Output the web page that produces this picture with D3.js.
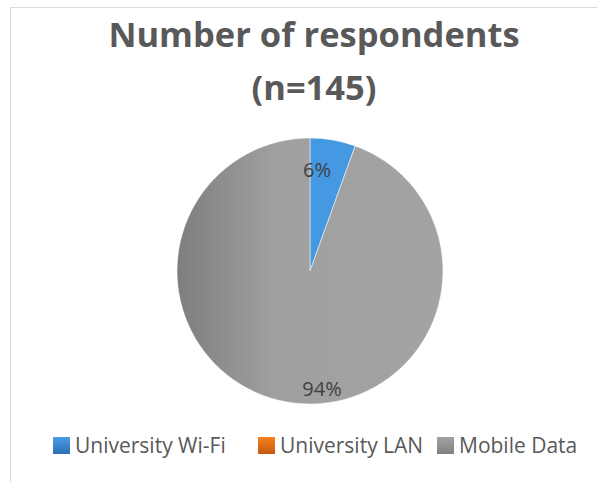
<!DOCTYPE html>
<html>
<head>
<meta charset="utf-8">
<script src="https://cdn.jsdelivr.net/npm/d3@7"></script>
<style>
  html, body { margin: 0; padding: 0; background: #fff; }
  svg { display: block; }
</style>
</head>
<body>
<div id="chart"></div>
<script>
// Respondents by connection type (n = 145)
const categories = ["University Wi-Fi", "University LAN", "Mobile Data"];
const respondents = [8, 0, 137];
const titleLines = ["Number of respondents", "(n=145)"];

const width = 597, height = 482;
const fontFamily = "'Open Sans', Lato, 'DejaVu Sans', sans-serif";

const svg = d3.select("#chart").append("svg")
  .attr("width", width)
  .attr("height", height);

const defs = svg.append("defs");

const sliceColors = ["#4599e3", "#ed7d31", "#a5a5a5"];
const legendTop = ["#4a9de8", "#f7801f", "#a3a3a3"];
const legendBottom = ["#2f6fb3", "#c4590f", "#7f7f7f"];

// Horizontal shading across the large slice
const shade = defs.append("linearGradient")
  .attr("id", "mobileShade")
  .attr("x1", "0%").attr("x2", "100%").attr("y1", "0%").attr("y2", "0%");
shade.append("stop").attr("offset", "0%").attr("stop-color", "#7e7e7e");
shade.append("stop").attr("offset", "37%").attr("stop-color", "#a0a0a0");
shade.append("stop").attr("offset", "100%").attr("stop-color", "#a3a3a3");

categories.forEach((c, i) => {
  const g = defs.append("linearGradient")
    .attr("id", "legendFill" + i)
    .attr("x1", "0%").attr("x2", "0%").attr("y1", "0%").attr("y2", "100%");
  g.append("stop").attr("offset", "0%").attr("stop-color", legendTop[i]);
  g.append("stop").attr("offset", "100%").attr("stop-color", legendBottom[i]);
});

// Chart frame
svg.append("rect")
  .attr("x", 10.5).attr("y", 7.5)
  .attr("width", width + 20).attr("height", height + 20)
  .attr("fill", "none")
  .attr("stroke", "#d9d9d9")
  .attr("stroke-width", 1);

// Title
const title = svg.append("text")
  .attr("text-anchor", "middle")
  .attr("font-family", fontFamily)
  .attr("font-weight", "bold")
  .attr("font-size", 34.5)
  .attr("fill", "#595959");
titleLines.forEach((t, i) => {
  title.append("tspan")
    .attr("x", 314)
    .attr("y", 47 + i * 53)
    .text(t);
});

// Pie
const cx = 310, cy = 271, radius = 133;
const total = d3.sum(respondents);
const data = categories.map((c, i) => ({ category: c, value: respondents[i], index: i }));

const pie = d3.pie().sort(null).value(d => d.value);
const arc = d3.arc().innerRadius(0).outerRadius(radius);
const arcs = pie(data);
const shown = arcs.filter(a => a.data.value > 0);

const pieG = svg.append("g").attr("transform", `translate(${cx},${cy})`);

pieG.selectAll("path")
  .data(shown)
  .join("path")
  .attr("d", arc)
  .attr("fill", d => d.data.index === 2 ? "url(#mobileShade)" : sliceColors[d.data.index])
  .attr("stroke", "#ffffff")
  .attr("stroke-width", 0.5);

// Percentage labels sit just inside the rim; angle and radius per label
const labelAngle = [0.07, null, 3.04];   // radians, clockwise from 12 o'clock
const labelRadius = [101, null, 118];
pieG.selectAll("text.pct")
  .data(shown)
  .join("text")
  .attr("class", "pct")
  .attr("transform", d => {
    const a = labelAngle[d.data.index], r = labelRadius[d.data.index];
    return `translate(${r * Math.sin(a)},${-r * Math.cos(a)})`;
  })
  .attr("text-anchor", "middle")
  .attr("dy", "0.36em")
  .attr("font-family", fontFamily)
  .attr("font-size", 20)
  .attr("fill", "#404040")
  .text(d => Math.round(d.data.value / total * 100) + "%");

// Legend
const legendX = [53, 258, 437];
const legend = svg.append("g");
const items = legend.selectAll("g")
  .data(data)
  .join("g")
  .attr("transform", (d, i) => `translate(${legendX[i]},437)`);
items.append("rect")
  .attr("width", 17).attr("height", 17)
  .attr("fill", d => `url(#legendFill${d.index})`);
items.append("text")
  .attr("x", 22)
  .attr("y", 16)
  .attr("font-family", fontFamily)
  .attr("font-size", 21)
  .attr("fill", "#595959")
  .text(d => d.category);
</script>
</body>
</html>
